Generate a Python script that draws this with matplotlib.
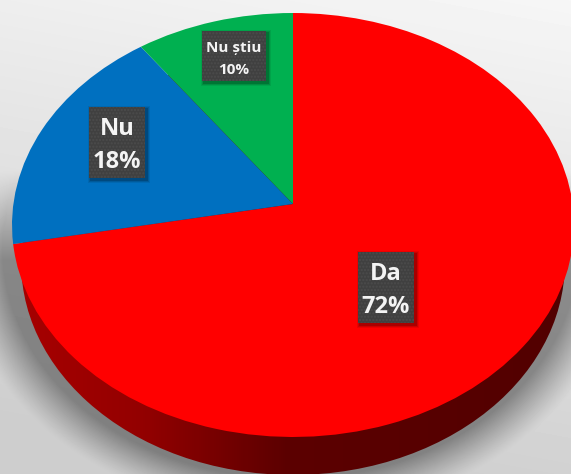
import numpy as np
import matplotlib.pyplot as plt
from matplotlib.patches import Circle, Rectangle
from matplotlib.transforms import Affine2D, Transform
from matplotlib.colors import LinearSegmentedColormap

categories = ["Da", "Nu", "Nu știu"]
values = [72, 18, 10]
colors = ["#ff0000", "#0070c0", "#00b050"]


# tilted disc: the near side of the pie comes out bigger than the far side
class Tilt(Transform):
    input_dims = 2
    output_dims = 2

    def __init__(self, k, sx, sy):
        super().__init__()
        self.k = k
        self.sx = sx
        self.sy = sy

    def transform_non_affine(self, xy):
        xy = np.asarray(xy)
        d = 1 + self.k * xy[:, 1]
        return np.column_stack([self.sx * xy[:, 0] / d, -self.sy * xy[:, 1] / d])


W, H = 571, 474
fig = plt.figure(figsize=(W / 100, H / 100), dpi=100)
ax = fig.add_axes([0, 0, 1, 1])

wedges, _ = ax.pie(values, colors=colors, startangle=90, counterclock=False,
                   wedgeprops=dict(linewidth=0))
ax.set_aspect("auto")
ax.set_xlim(0, W)
ax.set_ylim(H, 0)
ax.axis("off")

# background and soft shadow under the disc
yy, xx = np.mgrid[0:H, 0:W]
bg = 0.965 - 0.16 * np.clip((yy / H) * 0.9 + (1 - xx / W) * 0.2, 0, 1)
d = np.sqrt(((xx - 290) / 288.0) ** 2 + ((yy - 248) / 230.0) ** 2) - 1
shade = np.clip(1 - d * 250 / 40, 0, 1) ** 1.2 * np.clip((yy - 170) / 90, 0, 1)
bg = bg * (1 - 0.38 * shade)
ax.imshow(bg, cmap="gray", vmin=0, vmax=1, extent=(0, W, H, 0), aspect="auto", zorder=0)

top = Tilt(0.099, 279.6, 209.9) + Affine2D().translate(293, 204) + ax.transData
base = Tilt(0.099, 270.5, 209.9) + Affine2D().translate(293, 242) + ax.transData

# pie wall, dark red getting darker towards the right
wall_cmap = LinearSegmentedColormap.from_list(
    "wall", [(0, "#aa0000"), (0.25, "#930000"), (0.5, "#5c0000"), (1, "#520000")])
wall = ax.imshow(np.linspace(0, 1, W).reshape(1, -1), cmap=wall_cmap, vmin=0, vmax=1,
                 extent=(0, W, H, 0), aspect="auto", zorder=1)
wall.set_clip_path(Circle((0, 0), 1, transform=base))

for w in wedges:
    w.set_transform(top)
    w.set_zorder(2)

# value boxes
boxes = [(358, 252, 56, 71), (89, 107, 56, 71), (202, 31, 64, 50)]
sizes = [17, 17, 11]
spacing = [1.55, 1.55, 1.7]
for name, v, (x, y, bw, bh), fs, ls in zip(categories, values, boxes, sizes, spacing):
    for grow, a in [(3, 0.08), (2, 0.12), (1, 0.18)]:
        ax.add_patch(Rectangle((x + 2 - grow, y + 2 - grow), bw + 2 * grow, bh + 2 * grow,
                               fc="black", ec="none", alpha=a, zorder=3))
    ax.add_patch(Rectangle((x, y), bw, bh, fc="#404040", ec="#4c4c4c", hatch=".....",
                           lw=0, zorder=4))
    ax.text(x + bw / 2, y + bh / 2 + 3, f"{name}\n{v}%", color="#f4f4f4", fontsize=fs,
            family="Open Sans", weight="bold", ha="center", va="center",
            linespacing=ls, zorder=5)

fig.savefig("out.png", dpi=100)
